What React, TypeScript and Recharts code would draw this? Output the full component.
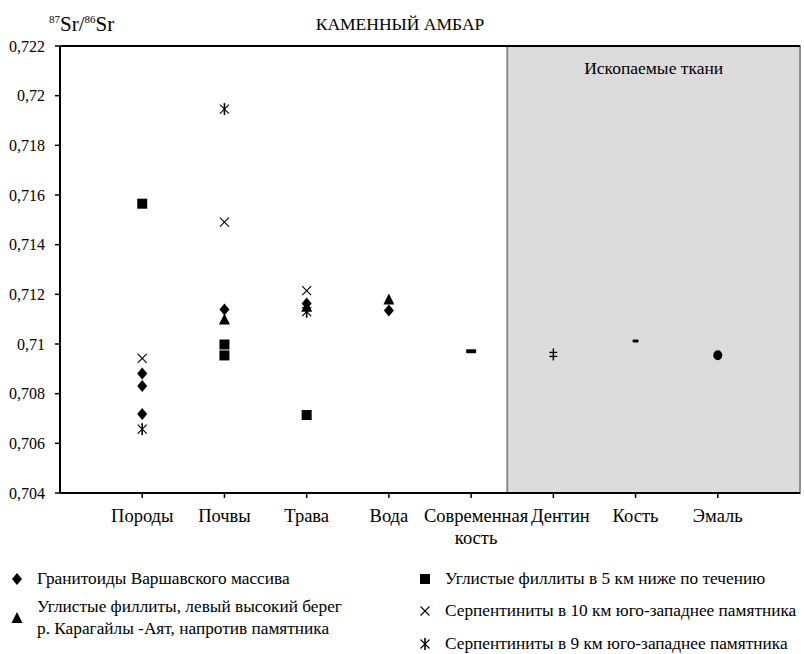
import React from "react";
import {
  ScatterChart, Scatter, XAxis, YAxis, ReferenceArea, ReferenceLine,
} from "recharts";

const FONT = "'Liberation Serif', 'Times New Roman', serif";

const categories = ["Породы", "Почвы", "Трава", "Вода", "Современная\nкость", "Дентин", "Кость", "Эмаль"];
const yTicks = [0.704, 0.706, 0.708, 0.71, 0.712, 0.714, 0.716, 0.718, 0.72, 0.722];

// [category number (1-based), 87Sr/86Sr]
const granitoids: [number, number][] = [[1, 0.70881], [1, 0.70831], [1, 0.70718], [2, 0.71139], [3, 0.71163], [4, 0.71135]];
const phyllitesBank: [number, number][] = [[2, 0.71099], [3, 0.7115], [4, 0.71179]];
const phyllites5km: [number, number][] = [[1, 0.71565], [2, 0.70998], [2, 0.70954], [3, 0.70714]];
const serpentinites10: [number, number][] = [[1, 0.70942], [2, 0.71491], [3, 0.71215]];
const serpentinites9: [number, number][] = [[1, 0.70657], [2, 0.71946], [3, 0.7113]];
const modernBone: [number, number][] = [[5, 0.70971]];
const dentin: [number, number][] = [[6, 0.70958]];
const bone: [number, number][] = [[7, 0.71012]];
const enamel: [number, number][] = [[8, 0.70955]];

const toPts = (arr: [number, number][]) => arr.map(([x, y]) => ({ x, y }));

type P = { cx?: number; cy?: number };

const Diamond = ({ cx = 0, cy = 0 }: P) => (
  <polygon points={`${cx},${cy - 6} ${cx + 5},${cy} ${cx},${cy + 6} ${cx - 5},${cy}`} fill="#000" />
);
const Triangle = ({ cx = 0, cy = 0 }: P) => (
  <polygon points={`${cx},${cy - 6} ${cx + 5.5},${cy + 5} ${cx - 5.5},${cy + 5}`} fill="#000" />
);
const Square = ({ cx = 0, cy = 0 }: P) => <rect x={cx - 5} y={cy - 5} width={10} height={10} fill="#000" />;
const Cross = ({ cx = 0, cy = 0 }: P) => (
  <g stroke="#000" strokeWidth={1.1}>
    <line x1={cx - 4.5} y1={cy - 4.5} x2={cx + 4.5} y2={cy + 4.5} />
    <line x1={cx - 4.5} y1={cy + 4.5} x2={cx + 4.5} y2={cy - 4.5} />
  </g>
);
const Star = ({ cx = 0, cy = 0 }: P) => (
  <g stroke="#000" strokeWidth={1.1}>
    <line x1={cx - 4.5} y1={cy - 4.5} x2={cx + 4.5} y2={cy + 4.5} />
    <line x1={cx - 4.5} y1={cy + 4.5} x2={cx + 4.5} y2={cy - 4.5} />
    <line x1={cx} y1={cy - 6} x2={cx} y2={cy + 6} strokeWidth={1.6} />
  </g>
);
const Dash = ({ cx = 0, cy = 0 }: P) => <rect x={cx - 5} y={cy - 2} width={10} height={4} rx={1} fill="#000" />;
const SmallDash = ({ cx = 0, cy = 0 }: P) => <rect x={cx - 3} y={cy - 1.5} width={6} height={3} rx={1} fill="#000" />;
const DoubleDagger = ({ cx = 0, cy = 0 }: P) => (
  <g stroke="#000">
    <line x1={cx} y1={cy - 6} x2={cx} y2={cy + 6} strokeWidth={1.4} />
    <line x1={cx - 4} y1={cy - 2} x2={cx + 4} y2={cy - 2} strokeWidth={1.4} />
    <line x1={cx - 4} y1={cy + 2} x2={cx + 4} y2={cy + 2} strokeWidth={1.4} />
  </g>
);
const Dot = ({ cx = 0, cy = 0 }: P) => <ellipse cx={cx} cy={cy} rx={4.5} ry={5} fill="#000" />;

const legendLeft = [
  { shape: Diamond, lines: ["Гранитоиды Варшавского массива"], x: 17, y: 579 },
  { shape: Triangle, lines: ["Углистые филлиты, левый высокий берег", "р. Карагайлы -Аят, напротив памятника"], x: 17, y: 618 },
];
const legendRight = [
  { shape: Square, lines: ["Углистые филлиты в 5 км ниже по течению"], x: 425, y: 579 },
  { shape: Cross, lines: ["Серпентиниты в 10 км юго-западнее памятника"], x: 425, y: 611 },
  { shape: Star, lines: ["Серпентиниты в 9 км юго-западнее памятника"], x: 425, y: 644 },
];

// small horizontal nudges of some category labels, as in the original layout
const labelNudge: Record<number, number> = { 5: 5, 6: 7 };

const CatTick = (props: any) => {
  const { x, y, payload } = props;
  const label = categories[payload.value - 1] ?? "";
  const parts = label.split("\n");
  const dx = labelNudge[payload.value] ?? 0;
  return (
    <g transform={`translate(${x + dx},${y})`}>
      {parts.map((t: string, i: number) => (
        <text key={i} x={0} y={22 + i * 22} textAnchor="middle" fill="#000" fontSize={18.5} fontFamily={FONT}>
          {t}
        </text>
      ))}
    </g>
  );
};

export default function App() {
  const all = [...legendLeft, ...legendRight];
  return (
    <div style={{ position: "absolute", left: 0, top: 0, width: 804, height: 654, overflow: "hidden", background: "#fff", fontFamily: FONT }}>
      <ScatterChart width={804} height={654} margin={{ top: 46, right: 4, left: 0, bottom: 121 }}>
        <ReferenceArea
          x1={5.44} x2={9} y1={0.704} y2={0.722}
          fill="#dcdcdc" fillOpacity={1} stroke="#8c8c8c" strokeWidth={2}
          label={{ value: "Ископаемые ткани", position: "insideTop", offset: 16, fill: "#000", fontSize: 17.5, fontFamily: FONT }}
        />
        <ReferenceLine y={0.722} stroke="#000" strokeWidth={2} />
        <XAxis
          type="number" dataKey="x" domain={[0, 9]} ticks={[1, 2, 3, 4, 5, 6, 7, 8]}
          tick={<CatTick />} tickSize={5} height={40}
          axisLine={{ stroke: "#000", strokeWidth: 2 }} tickLine={{ stroke: "#000", strokeWidth: 1.5 }}
          allowDataOverflow interval={0}
        />
        <YAxis
          type="number" dataKey="y" domain={[0.704, 0.722]} ticks={yTicks} width={60}
          tickFormatter={(v: number) => String(Number(v.toFixed(3))).replace(".", ",")}
          tick={{ fill: "#000", fontSize: 16, fontFamily: FONT }} tickSize={5} tickMargin={10}
          axisLine={{ stroke: "#000", strokeWidth: 2 }} tickLine={{ stroke: "#000", strokeWidth: 1.5 }}
          allowDataOverflow interval={0}
        />
        <Scatter name="Гранитоиды Варшавского массива" data={toPts(granitoids)} shape={Diamond} isAnimationActive={false} />
        <Scatter name="Углистые филлиты, левый высокий берег" data={toPts(phyllitesBank)} shape={Triangle} isAnimationActive={false} />
        <Scatter name="Углистые филлиты в 5 км ниже по течению" data={toPts(phyllites5km)} shape={Square} isAnimationActive={false} />
        <Scatter name="Серпентиниты в 10 км" data={toPts(serpentinites10)} shape={Cross} isAnimationActive={false} />
        <Scatter name="Серпентиниты в 9 км" data={toPts(serpentinites9)} shape={Star} isAnimationActive={false} />
        <Scatter name="Современная кость" data={toPts(modernBone)} shape={Dash} isAnimationActive={false} />
        <Scatter name="Дентин" data={toPts(dentin)} shape={DoubleDagger} isAnimationActive={false} />
        <Scatter name="Кость" data={toPts(bone)} shape={SmallDash} isAnimationActive={false} />
        <Scatter name="Эмаль" data={toPts(enamel)} shape={Dot} isAnimationActive={false} />
      </ScatterChart>

      <div style={{ position: "absolute", left: 49, top: 12, fontSize: 21, color: "#000", whiteSpace: "nowrap" }}>
        <sup style={{ fontSize: 11 }}>87</sup>Sr/<sup style={{ fontSize: 11 }}>86</sup>Sr
      </div>
      <div style={{ position: "absolute", left: 0, width: 800, top: 14, textAlign: "center", fontSize: 17.5, color: "#000" }}>
        КАМЕННЫЙ АМБАР
      </div>

      {all.map((item, i) => {
        const Shape = item.shape;
        const lineH = 22;
        const top = item.y - (item.lines.length * lineH) / 2;
        return (
          <React.Fragment key={i}>
            <svg style={{ position: "absolute", left: item.x - 8, top: item.y - 8 }} width={16} height={16}>
              <Shape cx={8} cy={8} />
            </svg>
            <div style={{ position: "absolute", left: item.x + 20, top, fontSize: 17.3, lineHeight: `${lineH}px`, color: "#000", whiteSpace: "nowrap" }}>
              {item.lines.map((l, j) => <div key={j}>{l}</div>)}
            </div>
          </React.Fragment>
        );
      })}
    </div>
  );
}
